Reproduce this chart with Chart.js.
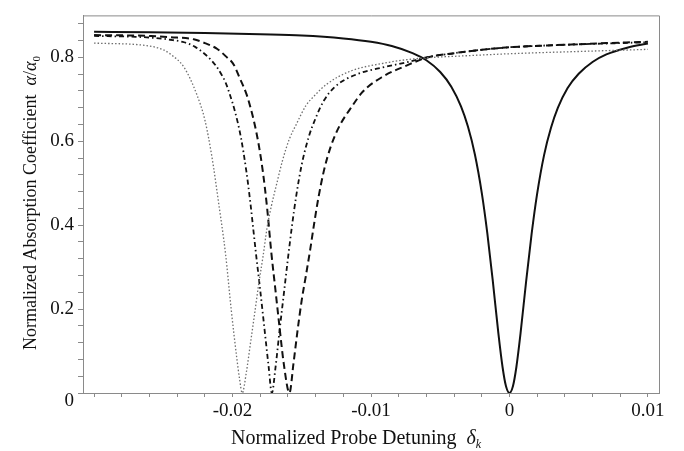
<!DOCTYPE html>
<html>
<head>
<meta charset="utf-8">
<script src="https://cdn.jsdelivr.net/npm/chart.js@4/dist/chart.umd.min.js"></script>
<style>
html,body{margin:0;padding:0;background:#fff;}
#wrap{width:684px;height:451px;position:relative;}
</style>
</head>
<body>
<div id="wrap"><canvas id="c" width="684" height="451"></canvas></div>
<script>
// ---- data ----
const solidX = [-0.0300,-0.0260,-0.0220,-0.0180,-0.0150,-0.0120,-0.0100,-0.0085,-0.0070,-0.0060,-0.0050,-0.0042,-0.0035,-0.0030,-0.0025,-0.0020,-0.0016,-0.0012,-0.0008,-0.0005,-0.00025,0,0.00025,0.0005,0.0008,0.0012,0.0016,0.0020,0.0025,0.0030,0.0035,0.0042,0.0050,0.0060,0.0070,0.0085,0.0100];
const solidY = [0.861,0.860,0.858,0.855,0.852,0.845,0.837,0.827,0.810,0.793,0.765,0.730,0.683,0.635,0.569,0.477,0.381,0.266,0.142,0.062,0.016,0,0.016,0.062,0.142,0.265,0.379,0.475,0.567,0.632,0.680,0.727,0.761,0.789,0.807,0.823,0.833];

const dashX = [-0.0300,-0.0270,-0.0259,-0.0245,-0.0228,-0.0220,-0.0211,-0.0205,-0.0199,-0.0195,-0.0190,-0.0187,-0.0184,-0.0181,-0.0178,-0.0175,-0.0172,-0.0169,-0.0166,-0.0163,-0.01589,-0.0156,-0.0153,-0.0150,-0.0147,-0.0144,-0.0141,-0.0138,-0.0134,-0.0129,-0.0123,-0.0114,-0.0106,-0.0092,-0.0074,-0.0060,-0.0040,-0.0020,0.0000,0.0040,0.0070,0.0100];
const dashY = [0.853,0.852,0.851,0.848,0.843,0.834,0.820,0.803,0.782,0.752,0.713,0.680,0.640,0.590,0.525,0.440,0.335,0.245,0.155,0.070,0,0.070,0.150,0.222,0.280,0.340,0.405,0.465,0.530,0.588,0.635,0.682,0.718,0.753,0.781,0.799,0.810,0.818,0.824,0.830,0.834,0.837];

const dashDotX = [-0.0300,-0.0270,-0.0259,-0.0245,-0.0235,-0.0227,-0.0219,-0.0212,-0.0208,-0.0205,-0.0202,-0.0198,-0.0194,-0.0190,-0.0187,-0.0185,-0.0183,-0.0180,-0.0177,-0.0174,-0.01716,-0.0169,-0.0166,-0.0163,-0.0160,-0.0157,-0.0154,-0.0150,-0.0145,-0.0140,-0.0134,-0.0126,-0.0110,-0.0090,-0.0072,-0.0060,-0.0040,-0.0020,0.0000,0.0040,0.0070,0.0100];
const dashDotY = [0.851,0.849,0.847,0.842,0.836,0.825,0.805,0.780,0.759,0.740,0.712,0.668,0.610,0.528,0.450,0.390,0.330,0.245,0.155,0.065,0,0.060,0.150,0.235,0.320,0.400,0.470,0.545,0.610,0.655,0.697,0.730,0.760,0.777,0.790,0.800,0.810,0.818,0.824,0.830,0.833,0.836];

const dotX = [-0.0300,-0.0262,-0.0250,-0.0245,-0.0235,-0.0226,-0.0220,-0.0215,-0.0210,-0.0205,-0.0201,-0.0197,-0.0195,-0.0193,-0.0190,-0.0187,-0.0184,-0.0181,-0.0178,-0.0175,-0.0172,-0.0168,-0.0164,-0.0159,-0.0154,-0.0147,-0.0141,-0.0132,-0.0115,-0.0091,-0.0067,-0.0030,0.0003,0.0050,0.0100];
const dotY = [0.834,0.828,0.818,0.808,0.776,0.713,0.651,0.565,0.452,0.330,0.200,0.085,0.035,0,0.050,0.120,0.190,0.262,0.325,0.395,0.445,0.500,0.553,0.605,0.640,0.685,0.708,0.736,0.767,0.786,0.797,0.804,0.809,0.814,0.819];

const xMajorLabels = ['-0.02','-0.01','0','0.01'];
const yMajorLabels = ['0','0.2','0.4','0.6','0.8'];

function pts(xs, ys){ return xs.map((x,i)=>({x:x, y:ys[i]})); }

const SERIF = '"Liberation Serif","DejaVu Serif",serif';
const AXC = '#8a8a8a';

const titlePlugin = {
  id:'titles',
  afterDraw(chart){
    const ctx = chart.ctx;
    const ca = chart.chartArea;
    ctx.save();
    // box top/right
    ctx.strokeStyle = AXC; ctx.lineWidth = 1;
    ctx.beginPath();
    ctx.moveTo(ca.left, ca.top+0.5); ctx.lineTo(ca.right+0.5, ca.top+0.5); ctx.lineTo(ca.right+0.5, ca.bottom);
    ctx.stroke();
    // y "0" label sits a little below the axis corner in the reference
    const ys = chart.scales.y;
    ctx.font = '19px '+SERIF; ctx.fillStyle = '#111'; ctx.textAlign = 'right'; ctx.textBaseline = 'middle';
    ctx.fillText(yMajorLabels[0], ca.left - 9, ys.getPixelForValue(0) + 8);
    function runs(list, cx, cy){
      let w = 0;
      list.forEach(r=>{ ctx.font = r.f; r.w = ctx.measureText(r.t).width; w += r.w; });
      let x = cx - w/2;
      ctx.fillStyle = '#111';
      ctx.textBaseline = 'alphabetic';
      ctx.textAlign = 'left';
      list.forEach(r=>{ ctx.font = r.f; ctx.fillText(r.t, x, cy + (r.dy||0)); x += r.w; });
    }
    runs([
      {t:'Normalized Probe Detuning  ', f:'20px '+SERIF},
      {t:'δ', f:'italic 20px '+SERIF},
      {t:'k', f:'italic 12px '+SERIF, dy:4}
    ], 356, 444);
    ctx.translate(36, 203);
    ctx.rotate(-Math.PI/2);
    runs([
      {t:'Normalized Absorption Coefficient  ', f:'18px '+SERIF},
      {t:'α', f:'italic 18px '+SERIF},
      {t:'/', f:'18px '+SERIF},
      {t:'α', f:'italic 18px '+SERIF},
      {t:'0', f:'11px '+SERIF, dy:4}
    ], 0, 0);
    ctx.restore();
  }
};

new Chart(document.getElementById('c'), {
  type:'line',
  data:{
    datasets:[
      {data:pts(dotX,dotY), borderColor:'#6e6e6e', borderWidth:1.3, borderDash:[1.5,2]},
      {data:pts(dashDotX,dashDotY), borderColor:'#111', borderWidth:1.8, borderDash:[5,3,1.5,3]},
      {data:pts(dashX,dashY), borderColor:'#111', borderWidth:2, borderDash:[7,4]},
      {data:pts(solidX,solidY), borderColor:'#111', borderWidth:2}
    ]
  },
  options:{
    responsive:false,
    animation:false,
    parsing:false,
    layout:{padding:{left:0,right:25,top:3,bottom:0}},
    elements:{point:{radius:0}, line:{cubicInterpolationMode:'monotone', fill:false}},
    plugins:{legend:{display:false}, tooltip:{enabled:false}},
    scales:{
      x:{
        type:'linear', min:-0.0308, max:0.0108,
        afterBuildTicks(s){ const t=[]; for(let i=-15;i<=5;i++){ t.push({value:i*0.002}); } s.ticks=t; },
        afterFit(s){ s.height = 58; },
        ticks:{
          autoSkip:false, maxRotation:0, padding:3, color:'#111',
          font:{family:SERIF, size:19},
          callback(v){ const k=Math.round(v/0.002); if(k%5!==0) return ''; const idx=k/5+2; return idx>=0? xMajorLabels[idx] : ''; }
        },
        grid:{drawOnChartArea:false, drawTicks:true, tickLength:4, color:AXC},
        border:{display:true, color:AXC, width:1}
      },
      y:{
        type:'linear', min:0, max:0.9,
        afterBuildTicks(s){ const t=[]; for(let i=0;i<=22;i++){ t.push({value:i*0.04}); } s.ticks=t; },
        afterFit(s){ s.width = 83; },
        ticks:{
          autoSkip:false, padding:4, color:'#111',
          font:{family:SERIF, size:19},
          callback(v){ const k=Math.round(v/0.04); if(k%5!==0) return ''; if(k===0) return ''; return yMajorLabels[k/5]; }
        },
        grid:{drawOnChartArea:false, drawTicks:true, tickLength:5, color:AXC},
        border:{display:true, color:AXC, width:1}
      }
    }
  },
  plugins:[titlePlugin]
});
</script>
</body>
</html>
